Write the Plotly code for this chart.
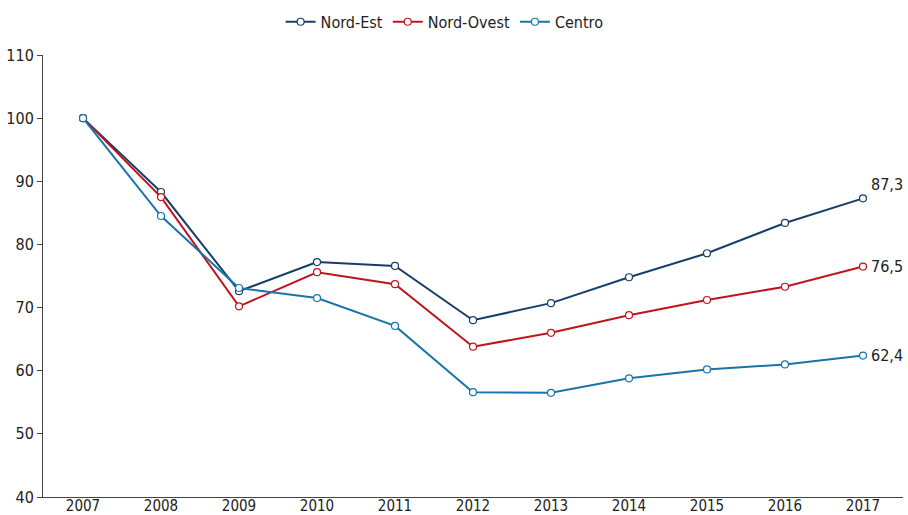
import plotly.graph_objects as go

years = [2007, 2008, 2009, 2010, 2011, 2012, 2013, 2014, 2015, 2016, 2017]
nord_est = [100, 88.3, 72.6, 77.2, 76.6, 68.0, 70.7, 74.8, 78.6, 83.4, 87.3]
nord_ovest = [100, 87.5, 70.2, 75.6, 73.7, 63.8, 66.0, 68.8, 71.2, 73.3, 76.5]
centro = [100, 84.5, 73.1, 71.5, 67.1, 56.6, 56.5, 58.8, 60.2, 61.0, 62.4]
names = ["Nord-Est", "Nord-Ovest", "Centro"]
colors = ["#173f66", "#c0141e", "#1a74aa"]
end_labels = ["87,3", "76,5", "62,4"]
yticks = [40, 50, 60, 70, 80, 90, 100, 110]

FONT = "DejaVu Sans Condensed, Liberation Sans Narrow, sans-serif"

fig = go.Figure()
series = [nord_est, nord_ovest, centro]
for name, vals, col in zip(names, series, colors):
    fig.add_trace(go.Scatter(
        x=years, y=vals, name=name, mode="lines+markers",
        line=dict(color=col, width=2),
        marker=dict(symbol="circle", size=7, color="white", line=dict(color=col, width=1.2)),
    ))

label_shift = [-14, 0, 0]
for vals, lab, dy in zip(series, end_labels, label_shift):
    fig.add_annotation(x=years[-1], y=vals[-1], text=lab, showarrow=False,
                       xanchor="left", xshift=6, yshift=-dy,
                       font=dict(family=FONT, size=16, color="#222"))

fig.update_layout(
    width=908, height=515,
    margin=dict(l=43, r=5, t=55, b=18, autoexpand=False),
    paper_bgcolor="white", plot_bgcolor="white",
    font=dict(family=FONT, size=16, color="#222"),
    showlegend=True,
    legend=dict(orientation="h", x=0.467, xanchor="center", y=1.075, yanchor="middle",
                font=dict(size=16)),
)
fig.update_xaxes(range=[2006.487, 2017.513], tickvals=years, ticktext=[str(y) for y in years],
                 showgrid=False, zeroline=False, showline=True, linecolor="#444", linewidth=1,
                 ticks="", tickfont=dict(size=15), automargin=False, ticklabelstandoff=-5)
fig.update_yaxes(range=[40, 110], tickvals=yticks, showgrid=False, zeroline=False,
                 showline=True, linecolor="#444", linewidth=1, ticks="outside", ticklen=5,
                 tickcolor="#444", tickfont=dict(size=16), automargin=False)

fig.write_html("out.html", config={"displayModeBar": False},
               post_script="document.body.style.margin='0';document.body.style.overflow='hidden';")
